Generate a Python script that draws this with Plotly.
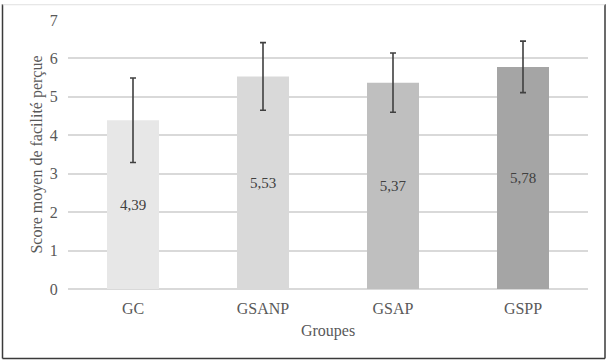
import plotly.graph_objects as go

categories = ["GC", "GSANP", "GSAP", "GSPP"]
means = [4.39, 5.53, 5.37, 5.78]
errors = [1.10, 0.88, 0.77, 0.67]
bar_colors = ["#E7E7E7", "#D9D9D9", "#BFBFBF", "#A5A5A5"]
labels = [f"{v:.2f}".replace(".", ",") for v in means]

W, H = 608, 364
ml, mr, mt, mb = 68, 20, 16, 75
pw, ph = W - ml - mr, H - mt - mb

def px_x(x):
    return (x - ml) / pw

def px_y(y):
    return (H - mb - y) / ph

FONT = "Liberation Serif, Times New Roman, serif"
dark = dict(color="#3A3A3A", width=1.5)

def seg(x0, y0, x1, y1, line):
    return dict(type="line", xref="paper", yref="paper",
                x0=px_x(x0), x1=px_x(x1), y0=px_y(y0), y1=px_y(y1),
                line=line, layer="above")

fig = go.Figure(go.Bar(
    x=categories, y=means,
    marker=dict(color=bar_colors, line=dict(width=0)),
    error_y=dict(type="data", array=errors, visible=True,
                 color="#404040", thickness=1.6, width=3),
    text=labels, textposition="inside", insidetextanchor="middle",
    textfont=dict(family=FONT, size=15, color="#404040"),
    cliponaxis=False,
))

fig.update_layout(
    width=W, height=H,
    margin=dict(l=ml, r=mr, t=mt, b=mb, pad=0),
    paper_bgcolor="white", plot_bgcolor="white",
    bargap=0.6, showlegend=False,
    font=dict(family=FONT, color="#595959"),
    xaxis=dict(
        title=dict(text="Groupes", font=dict(size=16, color="#595959"), standoff=8),
        tickfont=dict(size=16, color="#595959"),
        showgrid=False, zeroline=False, showline=False,
        ticks="outside", ticklen=5, tickcolor="rgba(0,0,0,0)",
    ),
    yaxis=dict(
        title=dict(text="Score moyen de facilité perçue", font=dict(size=16, color="#595959"), standoff=3),
        range=[0, 7], dtick=1,
        tickfont=dict(size=16, color="#595959"),
        showgrid=True, gridcolor="#D9D9D9", gridwidth=1.5,
        zeroline=True, zerolinecolor="#D9D9D9", zerolinewidth=1.5,
        showline=False,
        ticks="outside", ticklen=6, tickcolor="rgba(0,0,0,0)",
    ),
    shapes=[
        seg(2.5, 0, 2.5, 359.5, dark),
        seg(605, 0, 605, 359.5, dark),
        seg(2.5, 359.5, 605, 359.5, dark),
        seg(2.5, 0.5, 605, 0.5, dict(color="#E0E0E0", width=1)),
    ],
)

fig.write_html("out.html")
